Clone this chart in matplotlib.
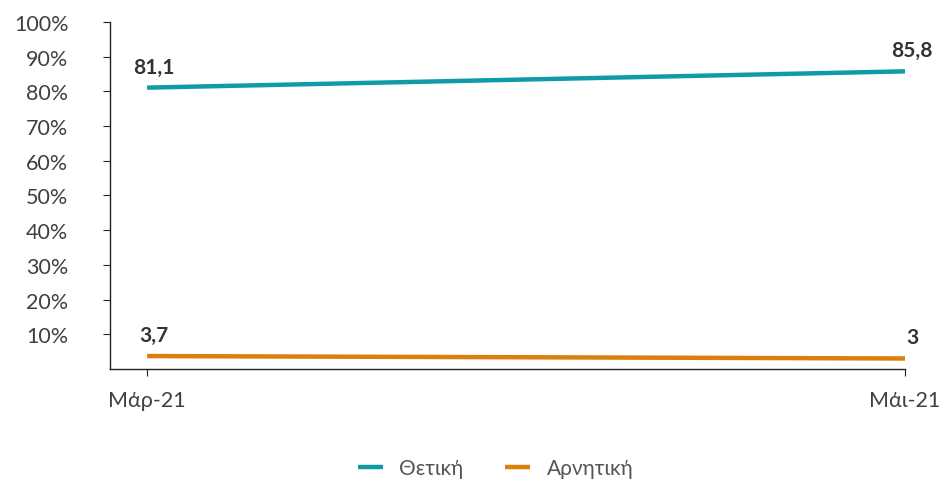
import matplotlib
matplotlib.use("Agg")
import matplotlib.pyplot as plt
from matplotlib.ticker import FuncFormatter

plt.rcParams['font.family'] = ['Lato', 'DejaVu Sans']

months = ['Μάρ-21', 'Μάι-21']
positive = [81.1, 85.8]
negative = [3.7, 3.0]
series_names = ['Θετική', 'Αρνητική']
colors = ['#0f9aa6', '#dc7e0a']
point_labels = [['81,1', '85,8'], ['3,7', '3']]

fig = plt.figure(figsize=(9.44, 4.81), dpi=100)
ax = fig.add_axes([0.1165, 0.231, 0.8422, 0.721])

x = list(range(len(months)))
for vals, name, c, labs in zip([positive, negative], series_names, colors, point_labels):
    ax.plot(x, vals, color=c, lw=3.2, label=name, solid_capstyle='butt')
    for xi, v, t in zip(x, vals, labs):
        ax.annotate(t, (xi, v), xytext=(5, 8), textcoords='offset points',
                    ha='center', va='bottom', fontsize=15, fontweight='bold',
                    color='#333333')

ax.set_ylim(0, 100)
ax.set_yticks(range(10, 101, 10))
ax.yaxis.set_major_formatter(FuncFormatter(lambda v, p: f'{int(v)}%'))
ax.set_xlim(-0.049, 1)
ax.set_xticks(x)
ax.set_xticklabels(months)

for s in ['top', 'right']:
    ax.spines[s].set_visible(False)
for s in ['left', 'bottom']:
    ax.spines[s].set_color('#222222')
    ax.spines[s].set_linewidth(1)
ax.tick_params(axis='both', colors='#222222', labelcolor='#404040',
               labelsize=15.5, length=5, direction='out')
ax.tick_params(axis='y', pad=25)
ax.tick_params(axis='x', pad=10)

fig.legend(loc='lower center', ncol=2, frameon=False, fontsize=15,
           bbox_to_anchor=(0.525, -0.035), handlelength=1.2, columnspacing=2.0,
           labelcolor='#555555')

fig.savefig('out.png', dpi=100)
